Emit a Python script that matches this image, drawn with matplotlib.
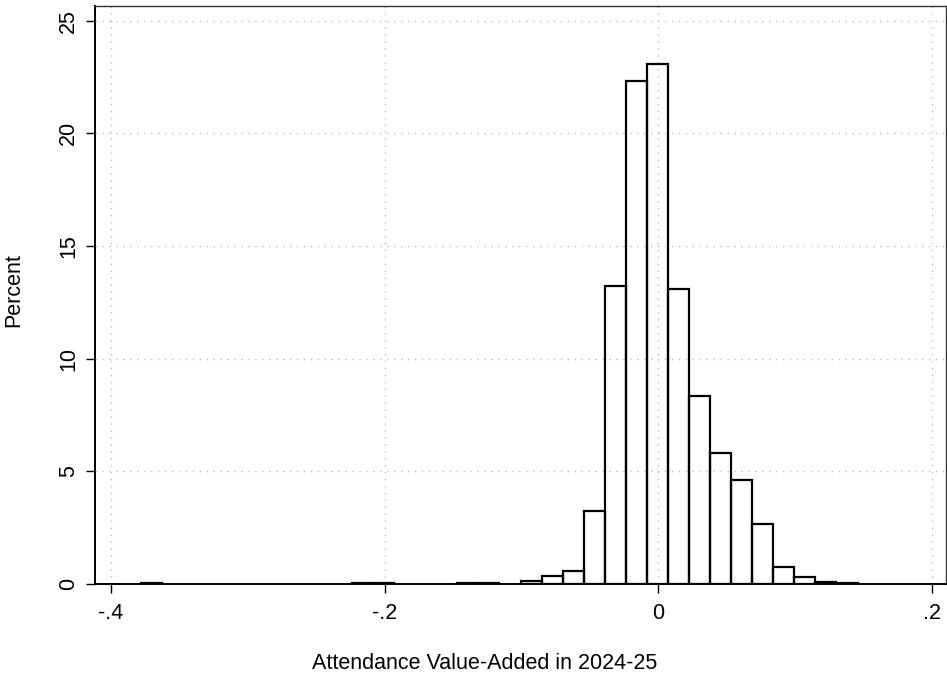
import matplotlib
matplotlib.use('Agg')
import matplotlib.pyplot as plt
import numpy as np

# histogram bins
bin_start = -0.3778
bin_width = 0.0154
percent = [0.05, 0, 0, 0, 0, 0, 0, 0, 0, 0,
           0.04, 0.04, 0, 0, 0, 0.03, 0.03, 0, 0.12, 0.34,
           0.59, 3.26, 13.24, 22.33, 23.07, 13.08, 8.33, 5.83, 4.61, 2.65,
           0.75, 0.30, 0.08, 0.03]
xticks = [-0.4, -0.2, 0, 0.2]
xticklabels = ['-.4', '-.2', '0', '.2']
yticks = [0, 5, 10, 15, 20, 25]

plt.rcParams['font.family'] = ['Liberation Sans', 'DejaVu Sans']
plt.rcParams['font.size'] = 15.5

fig = plt.figure(figsize=(9.47, 6.75), dpi=100)
ax = fig.add_axes([95 / 947, 1 - 584 / 675, 851 / 947, 578.3 / 675])

left = bin_start + bin_width * np.arange(len(percent))
pct = np.array(percent)
keep = pct > 0  # Stata leaves empty bins out
ax.bar(left[keep], pct[keep], width=bin_width, align='edge',
       fill=False, edgecolor='black', linewidth=1.6, zorder=3)

ax.set_xlim(-0.4117, 0.2105)
ax.set_ylim(0, 25.67)
ax.set_xticks(xticks)
ax.set_xticklabels(xticklabels)
ax.set_yticks(yticks)
plt.setp(ax.get_yticklabels(), rotation=90, va='center')

ax.grid(True, color='#bdbdbd', linestyle=(0, (1, 4)), linewidth=1.0, zorder=0)
ax.set_axisbelow(True)

ax.tick_params(axis='both', direction='out', length=6.5, width=1, colors='black')
ax.tick_params(axis='x', pad=7)
ax.tick_params(axis='y', pad=5)

for side in ['left', 'bottom']:
    ax.spines[side].set_linewidth(1.4)
for side in ['top', 'right']:
    ax.spines[side].set_linewidth(1.0)
    ax.spines[side].set_color('#333333')

ax.set_xlabel('Attendance Value-Added in 2024-25')
ax.set_ylabel('Percent')
ax.xaxis.set_label_coords(0.458, -0.12)
ax.yaxis.set_label_coords(-0.083, 0.508)

fig.savefig('out.png', dpi=100)
